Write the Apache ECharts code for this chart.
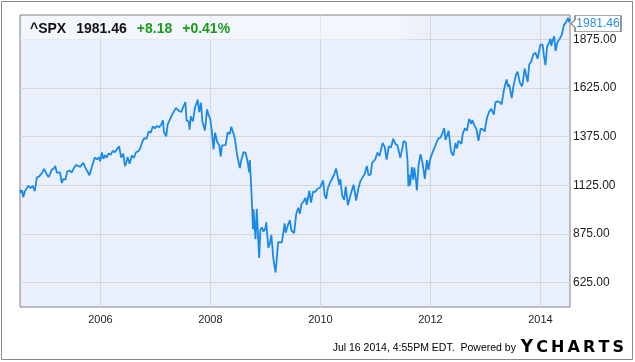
<!DOCTYPE html>
<html><head><meta charset="utf-8">
<script src="https://cdn.jsdelivr.net/npm/echarts@6/dist/echarts.min.js"></script>
<style>html,body{margin:0;padding:0;background:#fff}#c{width:635px;height:362px}</style>
</head><body><div id="c"></div>
<script>
const dates = [
'2004-07-16','2004-07-23','2004-07-30','2004-08-06','2004-08-13','2004-08-20','2004-08-31','2004-09-10','2004-09-24','2004-09-30','2004-10-08','2004-10-22','2004-10-29','2004-11-05','2004-11-19','2004-11-30','2004-12-10','2004-12-23','2004-12-31',
'2005-01-07','2005-01-21','2005-01-31','2005-02-11','2005-02-25','2005-03-07','2005-03-18','2005-03-31','2005-04-08','2005-04-20','2005-04-29','2005-05-13','2005-05-27','2005-06-10','2005-06-24','2005-07-08','2005-07-22','2005-08-05','2005-08-19','2005-08-31','2005-09-09','2005-09-23','2005-10-07','2005-10-20','2005-10-28','2005-11-11','2005-11-25','2005-12-09','2005-12-23','2005-12-30',
'2006-01-11','2006-01-20','2006-01-31','2006-02-10','2006-02-24','2006-03-10','2006-03-24','2006-04-07','2006-04-21','2006-05-05','2006-05-19','2006-06-02','2006-06-13','2006-06-23','2006-06-30','2006-07-14','2006-07-28','2006-08-11','2006-08-25','2006-09-08','2006-09-22','2006-10-06','2006-10-20','2006-11-03','2006-11-17','2006-12-01','2006-12-15','2006-12-29',
'2007-01-12','2007-01-26','2007-02-09','2007-02-20','2007-02-27','2007-03-09','2007-03-14','2007-03-23','2007-04-05','2007-04-20','2007-05-04','2007-05-18','2007-05-31','2007-06-08','2007-06-22','2007-07-06','2007-07-19','2007-07-27','2007-08-10','2007-08-16','2007-08-24','2007-09-07','2007-09-21','2007-10-09','2007-10-19','2007-10-31','2007-11-09','2007-11-26','2007-12-10','2007-12-21','2007-12-31',
'2008-01-11','2008-01-22','2008-02-01','2008-02-15','2008-02-29','2008-03-10','2008-03-18','2008-03-31','2008-04-11','2008-04-25','2008-05-09','2008-05-19','2008-05-30','2008-06-13','2008-06-27','2008-07-15','2008-07-25','2008-08-08','2008-08-22','2008-09-05','2008-09-15','2008-09-19','2008-09-29','2008-10-10','2008-10-13','2008-10-27','2008-11-04','2008-11-20','2008-11-28','2008-12-08','2008-12-19','2008-12-31',
'2009-01-06','2009-01-20','2009-01-30','2009-02-09','2009-02-23','2009-03-09','2009-03-26','2009-04-03','2009-04-20','2009-05-08','2009-05-15','2009-05-29','2009-06-12','2009-06-22','2009-07-02','2009-07-10','2009-07-24','2009-08-07','2009-08-17','2009-08-28','2009-09-11','2009-09-23','2009-10-02','2009-10-19','2009-10-30','2009-11-13','2009-11-27','2009-12-11','2009-12-31',
'2010-01-19','2010-01-29','2010-02-08','2010-02-19','2010-03-05','2010-03-19','2010-04-01','2010-04-15','2010-04-23','2010-05-06','2010-05-13','2010-05-25','2010-06-07','2010-06-18','2010-07-02','2010-07-16','2010-07-30','2010-08-09','2010-08-26','2010-09-10','2010-09-24','2010-10-08','2010-10-22','2010-11-05','2010-11-16','2010-11-30','2010-12-10','2010-12-31',
'2011-01-14','2011-01-28','2011-02-18','2011-03-04','2011-03-16','2011-03-31','2011-04-15','2011-04-29','2011-05-13','2011-05-27','2011-06-15','2011-06-30','2011-07-07','2011-07-22','2011-08-02','2011-08-08','2011-08-12','2011-08-19','2011-08-31','2011-09-09','2011-09-16','2011-09-30','2011-10-03','2011-10-14','2011-10-27','2011-11-10','2011-11-25','2011-12-09','2011-12-19','2011-12-30',
'2012-01-13','2012-01-27','2012-02-10','2012-02-24','2012-03-09','2012-03-23','2012-04-02','2012-04-10','2012-04-20','2012-05-01','2012-05-18','2012-06-01','2012-06-15','2012-06-25','2012-07-06','2012-07-25','2012-08-03','2012-08-17','2012-08-31','2012-09-14','2012-09-28','2012-10-05','2012-10-19','2012-11-02','2012-11-15','2012-11-30','2012-12-14','2012-12-28','2012-12-31',
'2013-01-11','2013-01-25','2013-02-08','2013-02-25','2013-03-08','2013-03-22','2013-04-05','2013-04-18','2013-05-03','2013-05-21','2013-05-31','2013-06-07','2013-06-24','2013-07-05','2013-07-23','2013-08-02','2013-08-16','2013-08-30','2013-09-06','2013-09-18','2013-10-08','2013-10-18','2013-11-01','2013-11-15','2013-11-29','2013-12-13','2013-12-31',
'2014-01-15','2014-01-24','2014-02-03','2014-02-14','2014-02-28','2014-03-07','2014-03-14','2014-03-21','2014-04-02','2014-04-11','2014-04-25','2014-05-09','2014-05-15','2014-05-23','2014-06-06','2014-06-20','2014-06-27','2014-07-03','2014-07-10','2014-07-16'
];
const closes = [
1101,1086,1101,1064,1064,1099,1104,1123,1110,1115,1122,1095,1130,1166,1170,1174,1189,1210,1212,
1186,1167,1181,1205,1211,1225,1190,1181,1191,1137,1157,1154,1198,1201,1191,1212,1229,1226,1220,1220,1241,1215,1196,1177,1198,1235,1268,1259,1268,1248,
1294,1261,1280,1266,1289,1282,1302,1295,1311,1325,1267,1288,1223,1245,1270,1236,1278,1266,1295,1299,1314,1349,1368,1364,1401,1396,1427,1418,
1430,1423,1438,1459,1399,1402,1377,1437,1443,1484,1505,1522,1530,1507,1502,1530,1553,1458,1453,1411,1479,1453,1525,1565,1501,1549,1453,1407,1515,1484,1468,
1401,1310,1395,1349,1330,1273,1330,1322,1332,1397,1388,1426,1400,1360,1278,1214,1257,1296,1292,1242,1192,1255,1106,899,1003,848,1005,752,896,909,887,903,
935,805,826,870,743,677,833,843,832,929,882,919,946,893,897,879,979,1010,979,1029,1042,1061,1025,1097,1036,1093,1091,1106,1115,
1150,1074,1056,1109,1138,1159,1178,1211,1217,1128,1157,1074,1050,1118,1023,1065,1102,1128,1047,1110,1148,1166,1184,1225,1178,1180,1240,1258,
1293,1276,1343,1321,1257,1326,1320,1364,1338,1331,1266,1321,1353,1345,1254,1119,1179,1124,1219,1154,1216,1131,1099,1225,1285,1239,1158,1255,1205,1258,
1289,1316,1343,1366,1371,1397,1419,1358,1378,1405,1295,1278,1342,1314,1354,1338,1391,1418,1406,1466,1441,1460,1433,1414,1353,1416,1413,1402,1426,
1472,1503,1518,1488,1551,1556,1553,1541,1614,1669,1631,1643,1573,1632,1695,1709,1655,1633,1655,1725,1656,1745,1762,1798,1806,1775,1848,
1848,1790,1742,1838,1859,1878,1841,1866,1891,1815,1863,1878,1870,1900,1949,1962,1961,1985,1964,1981.46
];
const yTicks = [625, 875, 1125, 1375, 1625, 1875];
const xTicks = ['2006-01-01','2008-01-01','2010-01-01','2012-01-01','2014-01-01'];
const xRange = ['2004-07-16','2014-07-16'];
const yRange = [500, 2000];
const symbolName = '^SPX';
const lastPrice = '1981.46';
const change = '+8.18';
const changePct = '+0.41%';
const footer = 'Jul 16 2014, 4:55PM EDT.  Powered by ';
const brand = 'YCHARTS';

const ts = d => new Date(d + 'T00:00:00Z').getTime();
const data = dates.map((d, i) => [ts(d), closes[i]]);
const xTickTs = xTicks.map(ts);
const font = 'Liberation Sans, Arial, sans-serif';
const brandFont = 'DejaVu Sans, sans-serif';

const brandText = brand.split('').map((ch, i) => '{' + (i === 0 ? 'y' : 'c') + '|' + ch + '}').join('');

const chart = echarts.init(document.getElementById('c'));
chart.setOption({
  animation: false,
  backgroundColor: '#ffffff',
  textStyle: { fontFamily: font },
  title: {
    left: 25, top: 17,
    text: '{s|' + symbolName + '}{p|' + lastPrice + '}{g|' + change + '}{g|' + changePct + '}',
    textStyle: {
      rich: {
        s: { fontFamily: font, fontSize: 14, fontWeight: 'bold', color: '#111' },
        p: { fontFamily: font, fontSize: 14, fontWeight: 'bold', color: '#111', padding: [0, 0, 0, 10] },
        g: { fontFamily: font, fontSize: 14, fontWeight: 'bold', color: '#1c9a1c', padding: [0, 0, 0, 10] }
      }
    }
  },
  grid: {
    left: 20, right: 65, top: 15, bottom: 55,
    show: true, backgroundColor: '#eaf0fb', borderColor: '#808080', borderWidth: 1
  },
  xAxis: {
    type: 'value',
    min: ts(xRange[0]), max: ts(xRange[1]),
    axisLine: { show: false },
    axisTick: { show: false, customValues: xTickTs },
    axisLabel: {
      customValues: xTickTs,
      formatter: v => String(new Date(v).getUTCFullYear()),
      color: '#222', fontSize: 11, margin: 7, fontFamily: font
    },
    splitLine: { show: true, lineStyle: { color: '#d6d6d6', width: 1 } }
  },
  yAxis: {
    type: 'value',
    position: 'right',
    min: yRange[0], max: yRange[1],
    axisLine: { show: false },
    axisTick: { show: false, customValues: yTicks },
    axisLabel: {
      customValues: yTicks,
      formatter: v => v.toFixed(2),
      color: '#222', fontSize: 12, margin: 3, fontFamily: font
    },
    splitLine: { show: true, lineStyle: { color: '#d6d6d6', width: 1 } }
  },
  series: [{
    type: 'line',
    data: data,
    showSymbol: false,
    smooth: false,
    lineStyle: { color: '#1a8ae8', width: 1.8 },
    z: 3,
    markPoint: {
      symbol: 'path://M0,8L4,4L4,0L50,0L50,16L4,16L4,12Z',
      symbolSize: [50, 16],
      symbolKeepAspect: false,
      symbolOffset: [26, 5],
      itemStyle: { color: '#ffffff', borderColor: '#8a8a8a', borderWidth: 1 },
      label: {
        show: true, position: 'inside', offset: [2, 0],
        formatter: lastPrice, color: '#2a8ee0', fontSize: 12, fontFamily: font
      },
      data: [{ coord: data[data.length - 1] }]
    }
  }],
  graphic: [
    { type: 'rect', z: 1, silent: true,
      shape: { x: 21, y: 16, width: 406, height: 24 },
      style: { fill: new echarts.graphic.LinearGradient(0, 0, 1, 0, [
        { offset: 0, color: 'rgba(255,255,255,0.45)' },
        { offset: 0.92, color: 'rgba(255,255,255,0.45)' },
        { offset: 1, color: 'rgba(255,255,255,0)' }]) } },
    { type: 'rect', z: 0, silent: true,
      shape: { x: 1.5, y: 1.5, width: 631, height: 358 },
      style: { fill: 'none', stroke: '#8a8a8a', lineWidth: 1 } },
    { type: 'text', right: 11, top: 339, z: 5,
      style: {
        text: '{a|' + footer + '}' + brandText,
        rich: {
          a: { fontFamily: font, fontSize: 10.5, color: '#222', padding: [2, 0, 0, 0] },
          y: { fontFamily: brandFont, fontSize: 17, fontWeight: 'bold', color: '#1a8ae8', padding: [0, 0, 0, 2] },
          c: { fontFamily: brandFont, fontSize: 16, fontWeight: 'bold', color: '#222', padding: [0, 0, 0, 3.1] }
        }
      } }
  ]
});
</script>
</body></html>
